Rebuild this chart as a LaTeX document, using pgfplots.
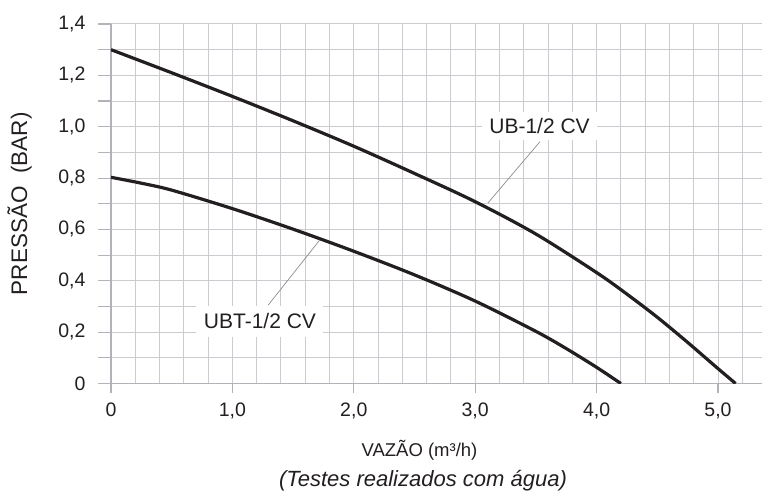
\documentclass[border=0pt]{standalone}
\usepackage{pgfplots}
\pgfplotsset{compat=1.18}
\usepackage{fontspec}
\setmainfont{Liberation Sans}
\definecolor{txt}{RGB}{35,31,32}
\definecolor{gridc}{RGB}{204,204,208}
\definecolor{axc}{RGB}{178,178,184}
\definecolor{lead}{RGB}{140,140,145}
\begin{document}
\begin{tikzpicture}
\path[use as bounding box] (-111pt,-108.5pt) rectangle (651pt,383.5pt);
\begin{axis}[
  at={(0pt,0pt)}, anchor=south west, scale only axis,
  width=650.7pt, height=359.5pt,
  xmin=0, xmax=5.36, ymin=0, ymax=1.4,
  axis x line=bottom, axis y line=left,
  axis line style={-, draw=axc, line width=1.3pt},
  xtick={0,1,2,3,4,5},
  xticklabels={0,{1,0},{2,0},{3,0},{4,0},{5,0}},
  minor xtick={0.2,0.4,0.6,0.8,1.2,1.4,1.6,1.8,2.2,2.4,2.6,2.8,3.2,3.4,3.6,3.8,4.2,4.4,4.6,4.8,5.2},
  ytick={0,0.1,0.2,0.3,0.4,0.5,0.6,0.7,0.8,0.9,1.0,1.1,1.2,1.3,1.4},
  yticklabels={0,{},{0,2},{},{0,4},{},{0,6},{},{0,8},{},{1,0},{},{1,2},{},{1,4}},
  tick align=outside, major tick length=13pt, minor tick length=0pt,
  xtick style={/pgfplots/major tick length=9pt},
  tick style={draw=axc, line width=1.1pt},
  xmajorgrids, xminorgrids, ymajorgrids,
  grid style={draw=gridc, line width=1pt},
  minor grid style={draw=gridc, line width=1pt},
  ticklabel style={font=\fontsize{19.5}{21}\selectfont, text=txt},
  yticklabel style={xshift=-9pt},
  xticklabel style={yshift=-3pt},
  /pgf/number format/assume math mode=true,
]
\addplot[smooth, line width=3.2pt, color=txt] coordinates {
(0,1.300) (0.5,1.210) (1.0,1.118) (1.5,1.023) (2.0,0.924) (2.5,0.818)
(3.0,0.708) (3.5,0.582) (4.0,0.432) (4.25,0.348) (4.5,0.258) (4.75,0.160)
(5.0,0.058) (5.145,0)
};
\addplot[smooth, line width=3.2pt, color=txt] coordinates {
(0,0.803) (0.25,0.780) (0.5,0.753) (1.0,0.681) (1.5,0.601) (2.0,0.515) (2.5,0.423)
(3.0,0.321) (3.5,0.203) (3.75,0.136) (4.0,0.063) (4.2,0)
};
\draw[lead, line width=0.7pt] (axis cs:3.534,0.942) -- (axis cs:3.105,0.703);
\draw[lead, line width=0.7pt] (axis cs:1.296,0.306) -- (axis cs:1.72,0.559);
\node[fill=white, inner sep=0pt, minimum width=115pt, minimum height=28pt,
  text=txt, font=\fontsize{21}{22}\selectfont] at (axis cs:3.53,1.003) {UB-1/2 CV};
\node[fill=white, inner sep=0pt, minimum width=127pt, minimum height=31pt,
  text=txt, font=\fontsize{21}{22}\selectfont] at (axis cs:1.227,0.243) {UBT-1/2 CV};
\end{axis}
\node[rotate=90, text=txt, font=\fontsize{22.5}{23}\selectfont] at (-91.5pt,179.75pt) {PRESSÃO\ \ (BAR)};
\node[anchor=base, text=txt, font=\fontsize{18.5}{20}\selectfont] at (308.5pt,-73.2pt) {VAZÃO (m³/h)};
\node[anchor=base, text=txt, font=\fontsize{22}{24}\selectfont\itshape] at (312pt,-102.5pt) {(Testes realizados com água)};
\end{tikzpicture}
\end{document}
